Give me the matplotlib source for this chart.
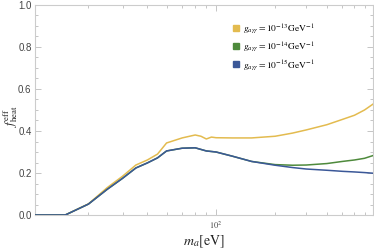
import numpy as np
import matplotlib
matplotlib.use("Agg")
import matplotlib.pyplot as plt
from matplotlib.ticker import FixedLocator, NullFormatter, FixedFormatter

plt.rcParams['mathtext.fontset'] = 'stix'
plt.rcParams['font.family'] = ['Liberation Sans', 'DejaVu Sans']

# data
m_blue = [20, 25, 30, 35, 40, 45, 50, 55, 60, 70, 80, 90, 100, 120, 150, 200, 250, 300, 400, 500, 600, 700, 800]
f_blue = [0, 0, 0.052, 0.122, 0.175, 0.224, 0.248, 0.272, 0.305, 0.318, 0.32, 0.305, 0.30, 0.28, 0.255,
          0.237, 0.226, 0.219, 0.213, 0.208, 0.205, 0.202, 0.199]
m_green = m_blue
f_green = [0, 0, 0.052, 0.122, 0.175, 0.224, 0.248, 0.272, 0.305, 0.318, 0.32, 0.305, 0.30, 0.28, 0.255,
           0.240, 0.237, 0.238, 0.245, 0.255, 0.262, 0.270, 0.283]
m_yellow = [20, 25, 30, 35, 40, 45, 50, 55, 60, 70, 80, 85, 90, 95, 100, 120, 150, 200, 250, 300, 400, 500, 600, 700, 800]
f_yellow = [0, 0, 0.053, 0.13, 0.185, 0.238, 0.262, 0.29, 0.343, 0.367, 0.381, 0.375, 0.362, 0.371, 0.368,
            0.367, 0.367, 0.375, 0.39, 0.405, 0.43, 0.455, 0.475, 0.50, 0.528]
labels = [r'$g_{a\gamma\gamma} = 10^{-13}\mathrm{GeV}^{-1}$',
          r'$g_{a\gamma\gamma} = 10^{-14}\mathrm{GeV}^{-1}$',
          r'$g_{a\gamma\gamma} = 10^{-15}\mathrm{GeV}^{-1}$']
colors = ['#e3bb4f', '#4e8a3c', '#3b5898']
x_major = [100]
x_major_labels = [r'$10^2$']
x_minor = [20, 30, 40, 50, 60, 70, 80, 90, 200, 300, 400, 500, 600, 700]
y_major = [0.0, 0.2, 0.4, 0.6, 0.8, 1.0]
y_minor = [0.05, 0.1, 0.15, 0.25, 0.3, 0.35, 0.45, 0.5, 0.55, 0.65, 0.7, 0.75, 0.85, 0.9, 0.95]

fig = plt.figure(figsize=(3.74, 2.49), dpi=100)
ax = fig.add_axes([35/374, 1-215/249, 338/374, 210/249])

def fwd(x):
    x = np.asarray(x, dtype=float)
    with np.errstate(all='ignore'):
        return np.log(np.log(np.clip(x, 1.0001, None)))

def inv(y):
    return np.exp(np.exp(np.asarray(y, dtype=float)))

ax.set_xscale('function', functions=(fwd, inv))

ax.plot(m_yellow, f_yellow, color=colors[0], lw=1.1, zorder=3)
ax.plot(m_green, f_green, color=colors[1], lw=1.1, zorder=4)
ax.plot(m_blue, f_blue, color=colors[2], lw=1.1, zorder=5)

ax.set_xlim(20, 800)
ax.set_ylim(0, 1.0)

ax.xaxis.set_major_locator(FixedLocator(x_major))
ax.xaxis.set_major_formatter(FixedFormatter(x_major_labels))
ax.xaxis.set_minor_locator(FixedLocator(x_minor))
ax.xaxis.set_minor_formatter(NullFormatter())
ax.yaxis.set_major_locator(FixedLocator(y_major))
ax.yaxis.set_major_formatter(FixedFormatter(['%.1f' % v for v in y_major]))
ax.yaxis.set_minor_locator(FixedLocator(y_minor))
ax.yaxis.set_minor_formatter(NullFormatter())

for s in ax.spines.values():
    s.set_color('#cccccc')
    s.set_linewidth(0.8)

ax.tick_params(which='both', direction='in', top=True, right=True, color='#bbbbbb',
               labelcolor='#444444', labelsize=7, width=0.6)
ax.tick_params(which='major', length=4, pad=2.5)
ax.tick_params(which='minor', length=2)
ax.tick_params(axis='x', which='major', labelsize=6, pad=3)

ax.set_xlabel(r'$m_a[\mathrm{eV}]$', fontsize=10, color='#222222', labelpad=2)
ax.set_ylabel(r'$f_{\rm heat}^{\rm eff}$', fontsize=9, color='#222222')
ax.yaxis.set_label_coords(-0.045, 0.47)

handles = [plt.Line2D([], [], marker='s', ls='none', color=c, markersize=3.8) for c in colors]
ax.legend(handles, labels, loc='upper left', bbox_to_anchor=(0.575, 0.935), frameon=False,
          fontsize=6.8, handlelength=0.6, handletextpad=0.45, labelspacing=0.4, borderaxespad=0)

fig.savefig('out.png', dpi=100)
